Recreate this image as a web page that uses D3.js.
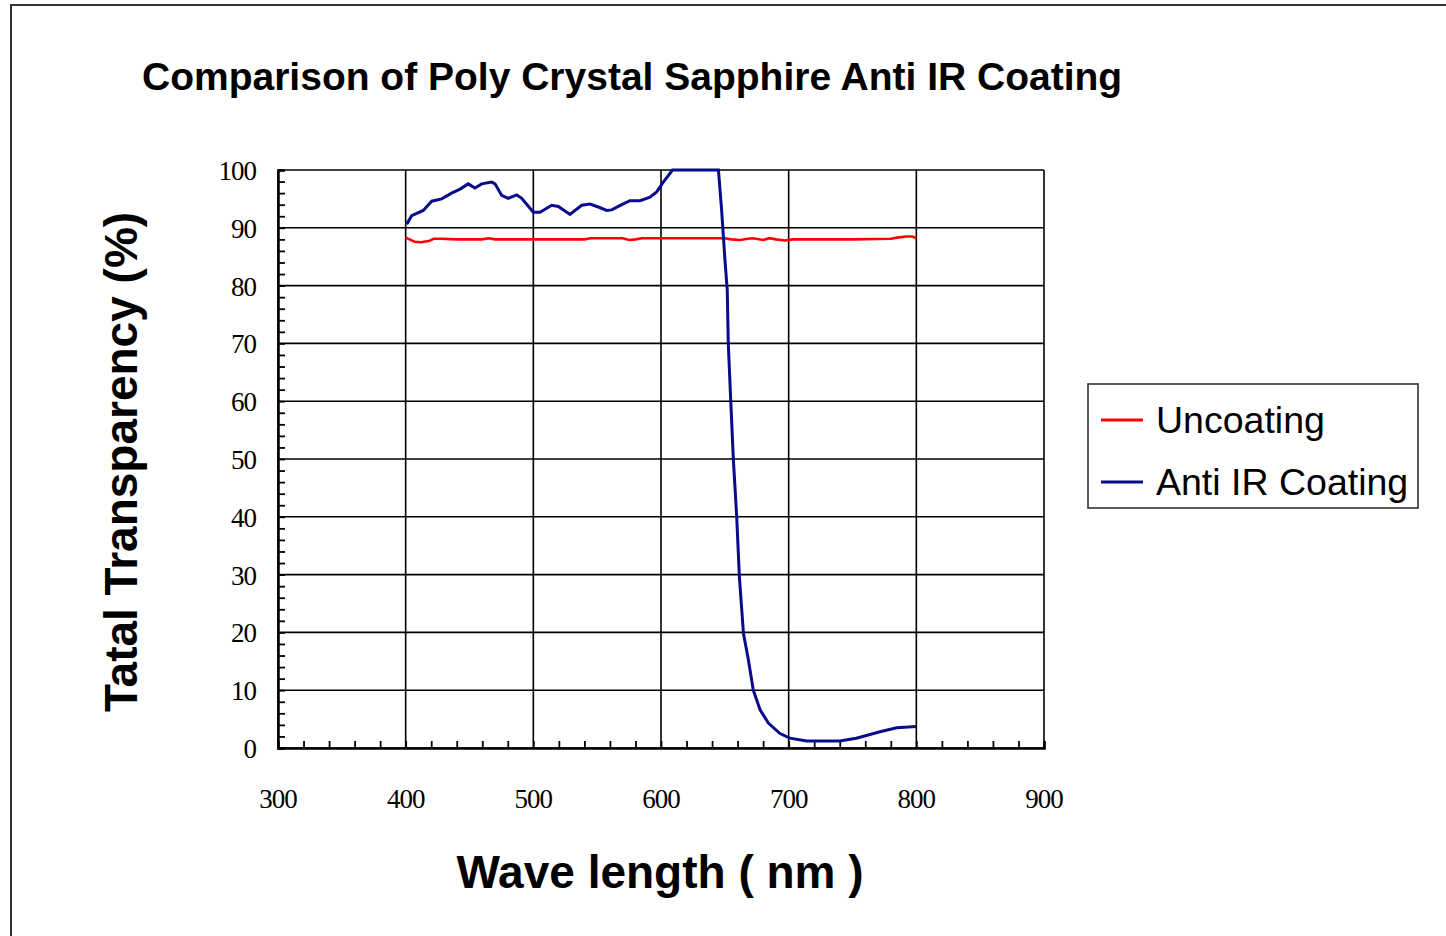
<!DOCTYPE html>
<html><head><meta charset="utf-8">
<script src="https://cdn.jsdelivr.net/npm/d3@7"></script>
<style>body{margin:0;background:#fff;}svg{display:block;}</style>
</head><body>
<svg id="chart" width="1446" height="936"></svg>
<script>
const title = "Comparison of Poly Crystal Sapphire Anti IR Coating";
const xLabel = "Wave length ( nm )";
const yLabel = "Tatal Transparency (%)";
const seriesNames = ["Uncoating", "Anti IR Coating"];
const seriesColors = ["#ff0000", "#0a0a8c"];
const xTicks = [300,400,500,600,700,800,900];
const yTicks = [0,10,20,30,40,50,60,70,80,90,100];

const uncoatWl  = [400,403,407,412,418,422,428,440,460,465,470,500,540,545,570,575,580,585,600,640,650,655,662,668,672,680,685,690,697,703,710,750,780,785,792,797,800];
const uncoatVal = [88.3,88.0,87.6,87.5,87.7,88.1,88.1,88.0,88.0,88.2,88.0,88.0,88.0,88.2,88.2,87.9,88.0,88.2,88.2,88.2,88.2,88.0,87.9,88.1,88.2,87.9,88.2,88.0,87.8,88.0,88.0,88.0,88.1,88.3,88.5,88.5,88.2];

const coatWl  = [400.8,404.7,413.8,420.4,428.2,436,442.6,449,454.3,459.5,467.4,470,475.2,480.4,487,490.9,500,505.2,514.4,519.6,528.7,537.9,544.4,550.9,557.5,561.4,569.2,575.7,583.5,591.4,596.6,601.8,609,645,647.5,650.1,651.9,652.7,654.6,656.7,659.3,661.4,664.6,668.5,672.3,677.6,684.1,693.2,701,714,740,753,771.5,784.6,800];
const coatVal = [90.6,92.1,93.0,94.6,95.0,96.0,96.7,97.6,96.9,97.6,97.9,97.6,95.6,95.1,95.7,95.1,92.7,92.7,93.9,93.7,92.3,93.9,94.1,93.6,93.0,93.1,94.0,94.7,94.7,95.3,96.2,97.9,100,100,93.0,84.4,79.2,70.0,60.2,49.8,40.0,29.6,19.8,15.2,10.0,6.6,4.3,2.5,1.7,1.2,1.2,1.7,2.8,3.5,3.7];

const svg = d3.select("#chart");
const L = 278, R = 1044, T = 170, B = 748;
const x = d3.scaleLinear().domain([300,900]).range([L,R]);
const y = d3.scaleLinear().domain([0,100]).range([B,T]);

svg.append("rect").attr("x",11).attr("y",5).attr("width",1460).attr("height",960)
  .attr("fill","none").attr("stroke","#333").attr("stroke-width",2);

svg.append("text").attr("x",142).attr("y",90).text(title)
  .attr("font-family","Liberation Sans, Arial, sans-serif").attr("font-weight","bold")
  .attr("font-size",39).attr("fill","#000");

const g = svg.append("g");
g.selectAll("line.hg").data(yTicks).join("line")
  .attr("x1",L).attr("x2",R).attr("y1",d=>y(d)).attr("y2",d=>y(d))
  .attr("stroke","#000").attr("stroke-width",1.6);
g.selectAll("line.vg").data(xTicks).join("line")
  .attr("y1",T).attr("y2",B).attr("x1",d=>x(d)).attr("x2",d=>x(d))
  .attr("stroke","#000").attr("stroke-width",1.6);

const yAxis = d3.axisRight(y).tickValues(d3.range(0,101,2)).tickSize(7).tickFormat("");
svg.append("g").attr("transform",`translate(${L},0)`).call(yAxis)
  .call(s=>{s.select(".domain").attr("stroke","#000").attr("stroke-width",2.5);
            s.selectAll(".tick line").attr("stroke","#000").attr("stroke-width",1.8);});
const xAxis = d3.axisTop(x).tickValues(d3.range(300,901,20)).tickSize(7).tickFormat("");
svg.append("g").attr("transform",`translate(0,${B})`).call(xAxis)
  .call(s=>{s.select(".domain").attr("stroke","#000").attr("stroke-width",2.5);
            s.selectAll(".tick line").attr("stroke","#000").attr("stroke-width",1.8);});

svg.append("g").selectAll("text").data(yTicks).join("text")
  .attr("x",256).attr("y",d=>y(d)+10).attr("text-anchor","end").text(d=>d)
  .attr("font-family","Liberation Serif, Times New Roman, serif").attr("font-size",27)
  .attr("letter-spacing",-1).attr("fill","#000");
svg.append("g").selectAll("text").data(xTicks).join("text")
  .attr("x",d=>x(d)).attr("y",808).attr("text-anchor","middle").text(d=>d)
  .attr("font-family","Liberation Serif, Times New Roman, serif").attr("font-size",27)
  .attr("letter-spacing",-1).attr("fill","#000");

svg.append("text").attr("x",660).attr("y",888).attr("text-anchor","middle").text(xLabel)
  .attr("font-family","Liberation Sans, Arial, sans-serif").attr("font-weight","bold").attr("font-size",46);
svg.append("text").attr("transform","translate(137,462) rotate(-90)").attr("text-anchor","middle").text(yLabel)
  .attr("font-family","Liberation Sans, Arial, sans-serif").attr("font-weight","bold").attr("font-size",46);

const line = d3.line().x(d=>x(d[0])).y(d=>y(d[1]));
const s1 = uncoatWl.map((w,i)=>[w,uncoatVal[i]]);
const s2 = coatWl.map((w,i)=>[w,coatVal[i]]);
svg.append("path").attr("d",line(s1)).attr("fill","none").attr("stroke",seriesColors[0]).attr("stroke-width",2.6);
svg.append("path").attr("d",line(s2)).attr("fill","none").attr("stroke",seriesColors[1]).attr("stroke-width",3);

svg.append("rect").attr("x",1088).attr("y",384).attr("width",330).attr("height",124)
  .attr("fill","#fff").attr("stroke","#333").attr("stroke-width",1.6);
const lg = svg.append("g").selectAll("g").data(seriesNames).join("g")
  .attr("transform",(d,i)=>`translate(0,${420+i*62})`);
lg.append("line").attr("x1",1101).attr("x2",1143).attr("y1",0).attr("y2",0)
  .attr("stroke",(d,i)=>seriesColors[i]).attr("stroke-width",3);
lg.append("text").attr("x",1156).attr("y",13).text(d=>d)
  .attr("font-family","Liberation Sans, Arial, sans-serif").attr("font-size",37.5).attr("fill","#000");
</script>
</body></html>
